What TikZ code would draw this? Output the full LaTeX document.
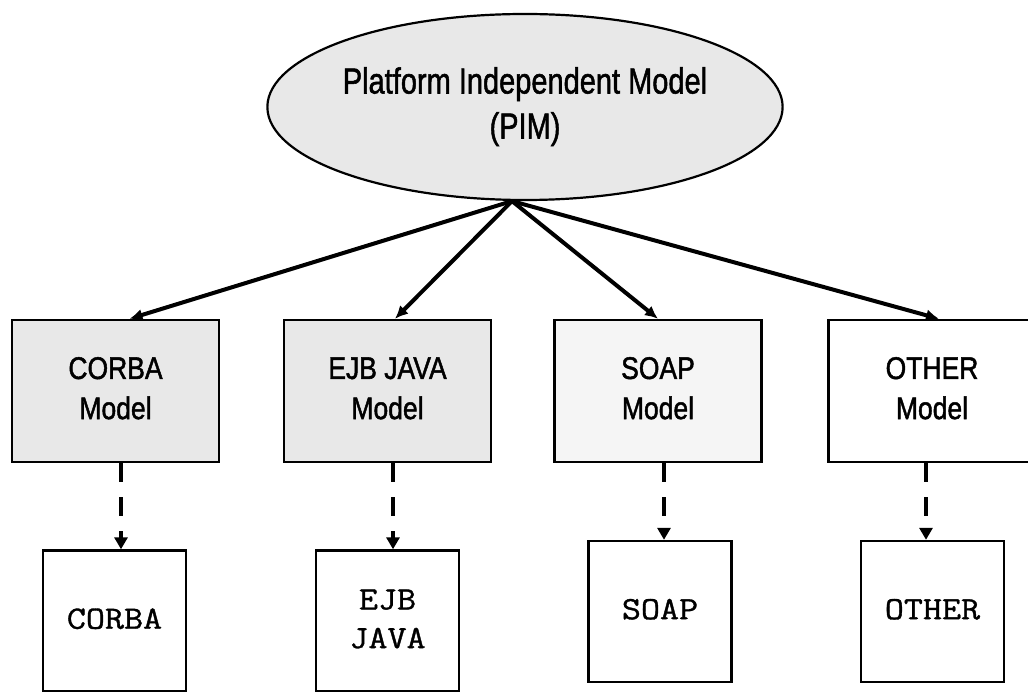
\documentclass[tikz,border=0pt]{standalone}
\usepackage{fontspec}
\usepackage{graphicx}
\setmainfont{Liberation Sans}[FakeBold=1.6]
\newfontfamily\codefont{Latin Modern Mono}[FakeBold=1.0]
\usetikzlibrary{shapes.geometric,arrows.meta}

% text set slightly taller than wide
\newcommand{\tallstack}[2]{\scalebox{1}[#1]{\begin{tabular}{@{}c@{}}#2\end{tabular}}}

\tikzset{
  halftone/.style={fill=black!9},
  pimnode/.style={ellipse, draw, line width=2.2pt, halftone, inner sep=0pt,
    minimum width=384pt, minimum height=186pt,
    font=\fontsize{29}{36}\selectfont},
  modelbox/.style={rectangle, draw, line width=2.4pt, inner sep=0pt,
    minimum width=207pt, minimum height=142pt,
    font=\fontsize{26.5}{34}\selectfont},
  codebox/.style={rectangle, draw, line width=2.4pt, inner sep=0pt,
    minimum width=143pt, minimum height=141pt,
    font=\codefont\fontsize{37}{44}\selectfont},
  derive/.style={line width=4pt, -{Latex[length=13pt,width=12pt]}},
  realize/.style={line width=4.8pt, dash pattern=on 19pt off 15pt,
    -{Triangle[length=12pt,width=13pt]}}
}

\begin{document}
\begin{tikzpicture}[x=1pt, y=-1pt]
  \useasboundingbox (0,0) rectangle (1028,692);

  % platform independent model
  \node[pimnode] (pim) at (525,107)
    {\tallstack{1.25}{Platform Independent Model\\(PIM)}};
  \coordinate (hub) at ([xshift=-13pt]pim.south);

  % platform specific models
  \node[modelbox, halftone] (corbaM) at (115.5,391) {\tallstack{1.18}{CORBA\\Model}};
  \node[modelbox, halftone] (ejbM)   at (387.5,391) {\tallstack{1.18}{EJB JAVA\\Model}};
  \node[modelbox, fill=black!4] (soapM) at (658,391) {\tallstack{1.18}{SOAP\\Model}};
  \node[modelbox, fill=white] (otherM) at (932,391) {\tallstack{1.18}{OTHER\\Model}};

  % generated code
  \node[codebox] (corba) at (114.5,621)  {\tallstack{0.88}{CORBA}};
  \node[codebox] (ejb)   at (387.5,621)  {\tallstack{0.88}{EJB\\JAVA}};
  \node[codebox] (soap)  at (660,611.5)  {\tallstack{0.88}{SOAP}};
  \node[codebox] (other) at (932.5,611.5){\tallstack{0.88}{OTHER}};

  % PIM to PSM transformations
  \draw[derive] (hub) -- ([xshift=14pt]corbaM.north);
  \draw[derive] (hub) -- ([xshift=7.5pt]ejbM.north);
  \draw[derive] (hub) -- (soapM.north);
  \draw[derive] (hub) -- ([xshift=7pt]otherM.north);

  % PSM to code
  \draw[realize] ([xshift=5.5pt]corbaM.south) -- ([xshift=5.5pt]corbaM.south |- corba.north);
  \draw[realize] ([xshift=5.5pt]ejbM.south) -- ([xshift=5.5pt]ejbM.south |- ejb.north);
  \draw[realize] ([xshift=6pt]soapM.south) -- ([xshift=6pt]soapM.south |- soap.north);
  \draw[realize] ([xshift=-6pt]otherM.south) -- ([xshift=-6pt]otherM.south |- other.north);
\end{tikzpicture}
\end{document}
